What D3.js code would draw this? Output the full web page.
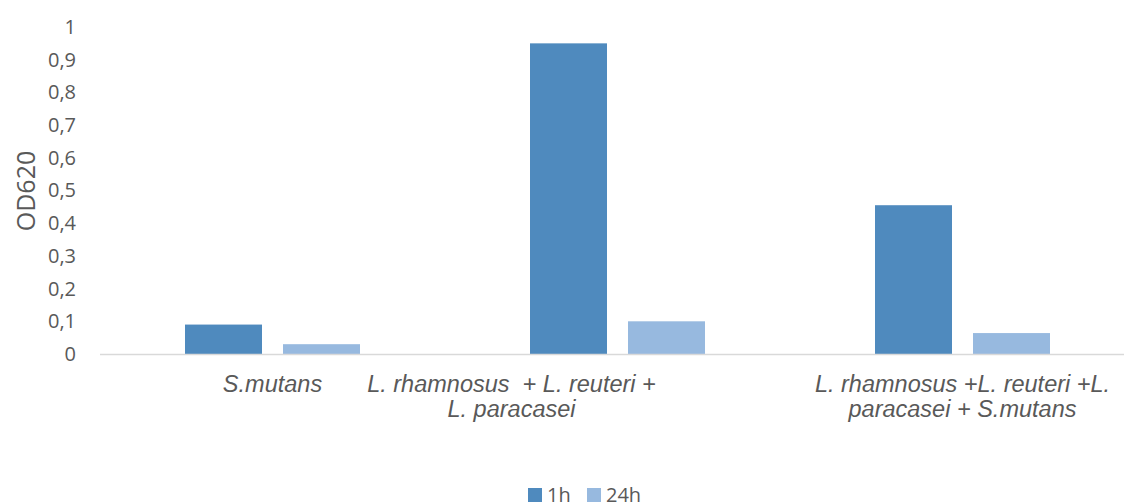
<!DOCTYPE html>
<html><head><meta charset="utf-8">
<script src="https://cdn.jsdelivr.net/npm/d3@7"></script>
<style>body{margin:0;background:#fff}svg{display:block}</style>
</head><body><div id="chart"></div>
<script>
const categories = [
  ["S.mutans"],
  ["L. rhamnosus  + L. reuteri +", "L. paracasei"],
  ["L. rhamnosus +L. reuteri +L.", "paracasei + S.mutans"]
];
const seriesNames = ["1h", "24h"];
const values1h = [0.09, 0.95, 0.455];
const values24h = [0.03, 0.1, 0.064];
const yTicks = [0, 0.1, 0.2, 0.3, 0.4, 0.5, 0.6, 0.7, 0.8, 0.9, 1];
const yTitle = "OD620";

const W = 1124, H = 502;
const colors = ["#4f8abe", "#97b9df"];
const textColor = "#595959";
const svg = d3.select("#chart").append("svg").attr("width", W).attr("height", H);

const x = d3.scaleBand().domain(d3.range(categories.length)).range([100, 1135]);
const x1 = d3.scaleBand().domain(seriesNames).range([85, 260]).paddingInner(21 / 98).paddingOuter(0);
const y = d3.scaleLinear().domain([0, 1]).range([354, 27]);

// y axis labels
const yAxis = d3.axisLeft(y).tickValues(yTicks).tickSize(0).tickPadding(0)
  .tickFormat(d => d3.format("~g")(d).replace(".", ","));
const gy = svg.append("g").attr("transform", "translate(76,0)").call(yAxis);
gy.select(".domain").remove();
gy.selectAll("text").attr("fill", textColor).style("font-family", "'Open Sans', sans-serif").style("font-size", "20px");

// bars
const series = [values1h, values24h];
series.forEach((vals, si) => {
  svg.append("g").selectAll("rect").data(vals).join("rect")
    .attr("x", (d, i) => x(i) + x1(seriesNames[si]))
    .attr("width", x1.bandwidth())
    .attr("y", d => y(d))
    .attr("height", d => y(0) - y(d))
    .attr("fill", colors[si]);
});

// baseline
svg.append("line").attr("x1", 100).attr("x2", W).attr("y1", y(0) + 0.5).attr("y2", y(0) + 0.5)
  .attr("stroke", "#d9d9d9").attr("stroke-width", 1.5);

// category labels
const labelShift = [0, -106, 0];
categories.forEach((lines, i) => {
  const t = svg.append("text").attr("text-anchor", "middle")
    .attr("fill", textColor).style("font-family", "'Liberation Sans', Arial, sans-serif")
    .style("font-style", "italic").style("font-size", "23.5px").style("white-space", "pre");
  lines.forEach((ln, j) => {
    t.append("tspan").attr("x", x(i) + x.bandwidth() / 2 + labelShift[i]).attr("y", 392 + j * 25).text(ln);
  });
});

// y title
svg.append("text").attr("transform", "translate(35,191) rotate(-90)").attr("text-anchor", "middle")
  .attr("fill", textColor).style("font-family", "'Open Sans', sans-serif").style("font-size", "25px").text(yTitle);

// legend
const legendItems = [{n: seriesNames[0], x: 528, tx: 547}, {n: seriesNames[1], x: 587, tx: 606}];
legendItems.forEach((it, i) => {
  svg.append("rect").attr("x", it.x).attr("y", 488).attr("width", 14).attr("height", 14).attr("fill", colors[i]);
  svg.append("text").attr("x", it.tx).attr("y", 502).attr("fill", textColor)
    .style("font-family", "'Open Sans', sans-serif").style("font-size", "20px").text(it.n);
});
</script></body></html>
